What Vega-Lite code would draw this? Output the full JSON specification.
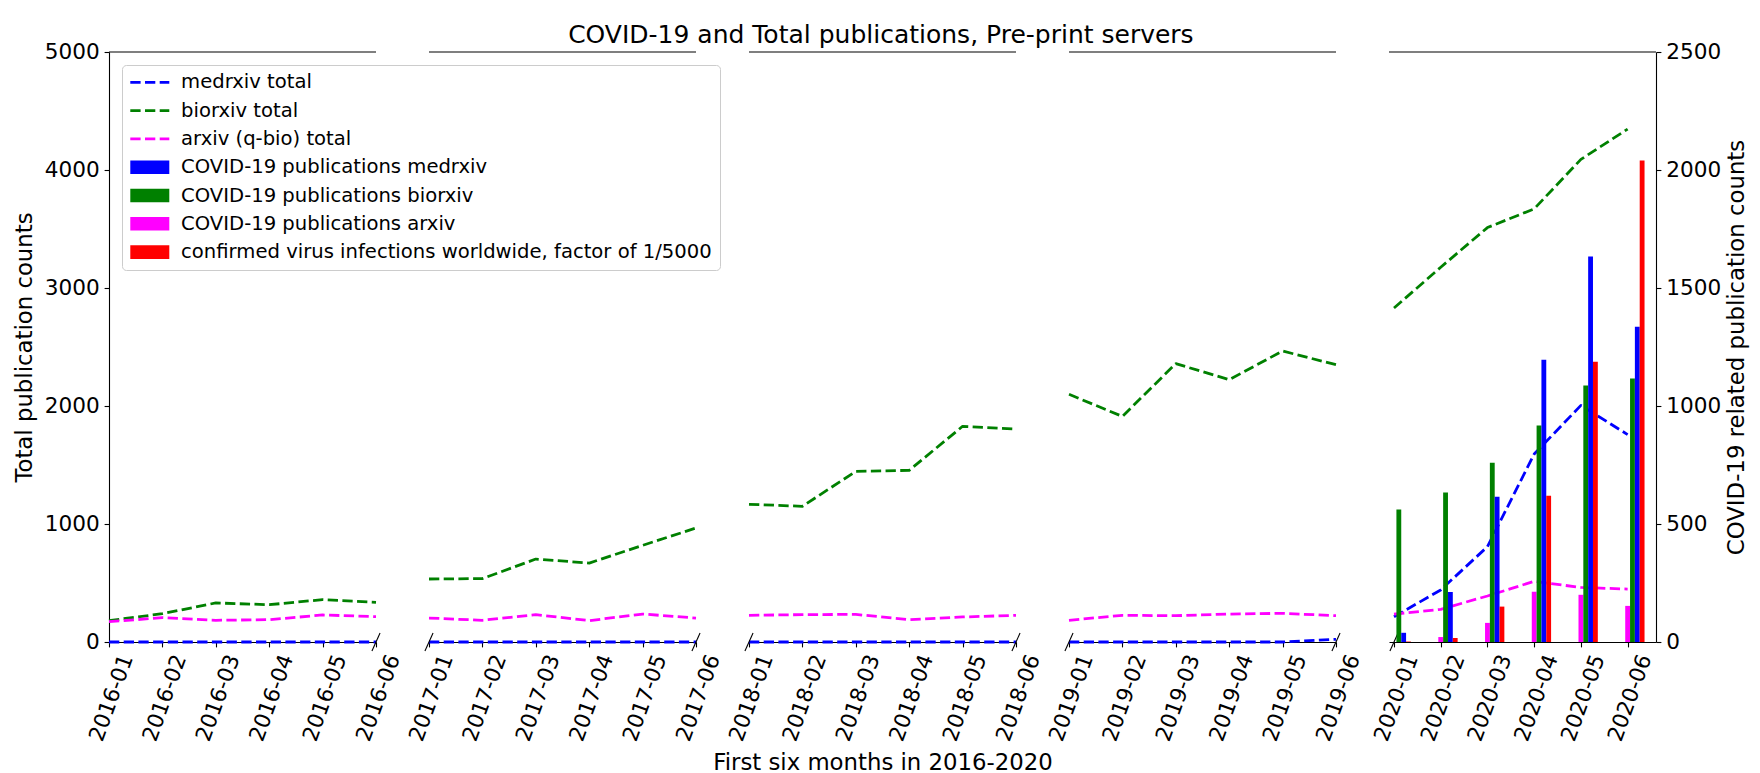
{
  "$schema": "https://vega.github.io/schema/vega-lite/v6.json",
  "background": "white",
  "padding": {"left": 13, "top": 23, "right": 13, "bottom": 0},
  "title": {"text": "COVID-19 and Total publications, Pre-print servers", "anchor": "middle", "offset": -7, "fontSize": 25},
  "datasets": {
    "totals": [
      {"year": 2016, "month": 1, "series": "medrxiv total", "count": 0},
      {"year": 2016, "month": 2, "series": "medrxiv total", "count": 0},
      {"year": 2016, "month": 3, "series": "medrxiv total", "count": 0},
      {"year": 2016, "month": 4, "series": "medrxiv total", "count": 0},
      {"year": 2016, "month": 5, "series": "medrxiv total", "count": 0},
      {"year": 2016, "month": 6, "series": "medrxiv total", "count": 0},
      {"year": 2016, "month": 1, "series": "biorxiv total", "count": 181},
      {"year": 2016, "month": 2, "series": "biorxiv total", "count": 240},
      {"year": 2016, "month": 3, "series": "biorxiv total", "count": 331},
      {"year": 2016, "month": 4, "series": "biorxiv total", "count": 316},
      {"year": 2016, "month": 5, "series": "biorxiv total", "count": 359},
      {"year": 2016, "month": 6, "series": "biorxiv total", "count": 336},
      {"year": 2016, "month": 1, "series": "arxiv (q-bio) total", "count": 172},
      {"year": 2016, "month": 2, "series": "arxiv (q-bio) total", "count": 206},
      {"year": 2016, "month": 3, "series": "arxiv (q-bio) total", "count": 184},
      {"year": 2016, "month": 4, "series": "arxiv (q-bio) total", "count": 189},
      {"year": 2016, "month": 5, "series": "arxiv (q-bio) total", "count": 229},
      {"year": 2016, "month": 6, "series": "arxiv (q-bio) total", "count": 215},
      {"year": 2017, "month": 1, "series": "medrxiv total", "count": 0},
      {"year": 2017, "month": 2, "series": "medrxiv total", "count": 0},
      {"year": 2017, "month": 3, "series": "medrxiv total", "count": 0},
      {"year": 2017, "month": 4, "series": "medrxiv total", "count": 0},
      {"year": 2017, "month": 5, "series": "medrxiv total", "count": 0},
      {"year": 2017, "month": 6, "series": "medrxiv total", "count": 0},
      {"year": 2017, "month": 1, "series": "biorxiv total", "count": 534},
      {"year": 2017, "month": 2, "series": "biorxiv total", "count": 537},
      {"year": 2017, "month": 3, "series": "biorxiv total", "count": 703},
      {"year": 2017, "month": 4, "series": "biorxiv total", "count": 669},
      {"year": 2017, "month": 5, "series": "biorxiv total", "count": 819},
      {"year": 2017, "month": 6, "series": "biorxiv total", "count": 966},
      {"year": 2017, "month": 1, "series": "arxiv (q-bio) total", "count": 203},
      {"year": 2017, "month": 2, "series": "arxiv (q-bio) total", "count": 184},
      {"year": 2017, "month": 3, "series": "arxiv (q-bio) total", "count": 232},
      {"year": 2017, "month": 4, "series": "arxiv (q-bio) total", "count": 181},
      {"year": 2017, "month": 5, "series": "arxiv (q-bio) total", "count": 237},
      {"year": 2017, "month": 6, "series": "arxiv (q-bio) total", "count": 203},
      {"year": 2018, "month": 1, "series": "medrxiv total", "count": 0},
      {"year": 2018, "month": 2, "series": "medrxiv total", "count": 0},
      {"year": 2018, "month": 3, "series": "medrxiv total", "count": 0},
      {"year": 2018, "month": 4, "series": "medrxiv total", "count": 0},
      {"year": 2018, "month": 5, "series": "medrxiv total", "count": 0},
      {"year": 2018, "month": 6, "series": "medrxiv total", "count": 0},
      {"year": 2018, "month": 1, "series": "biorxiv total", "count": 1167},
      {"year": 2018, "month": 2, "series": "biorxiv total", "count": 1150},
      {"year": 2018, "month": 3, "series": "biorxiv total", "count": 1446},
      {"year": 2018, "month": 4, "series": "biorxiv total", "count": 1455},
      {"year": 2018, "month": 5, "series": "biorxiv total", "count": 1828},
      {"year": 2018, "month": 6, "series": "biorxiv total", "count": 1805},
      {"year": 2018, "month": 1, "series": "arxiv (q-bio) total", "count": 226},
      {"year": 2018, "month": 2, "series": "arxiv (q-bio) total", "count": 232},
      {"year": 2018, "month": 3, "series": "arxiv (q-bio) total", "count": 234},
      {"year": 2018, "month": 4, "series": "arxiv (q-bio) total", "count": 189},
      {"year": 2018, "month": 5, "series": "arxiv (q-bio) total", "count": 212},
      {"year": 2018, "month": 6, "series": "arxiv (q-bio) total", "count": 226},
      {"year": 2019, "month": 1, "series": "medrxiv total", "count": 0},
      {"year": 2019, "month": 2, "series": "medrxiv total", "count": 0},
      {"year": 2019, "month": 3, "series": "medrxiv total", "count": 0},
      {"year": 2019, "month": 4, "series": "medrxiv total", "count": 0},
      {"year": 2019, "month": 5, "series": "medrxiv total", "count": 0},
      {"year": 2019, "month": 6, "series": "medrxiv total", "count": 23},
      {"year": 2019, "month": 1, "series": "biorxiv total", "count": 2099},
      {"year": 2019, "month": 2, "series": "biorxiv total", "count": 1912},
      {"year": 2019, "month": 3, "series": "biorxiv total", "count": 2359},
      {"year": 2019, "month": 4, "series": "biorxiv total", "count": 2223},
      {"year": 2019, "month": 5, "series": "biorxiv total", "count": 2466},
      {"year": 2019, "month": 6, "series": "biorxiv total", "count": 2350},
      {"year": 2019, "month": 1, "series": "arxiv (q-bio) total", "count": 184},
      {"year": 2019, "month": 2, "series": "arxiv (q-bio) total", "count": 226},
      {"year": 2019, "month": 3, "series": "arxiv (q-bio) total", "count": 223},
      {"year": 2019, "month": 4, "series": "arxiv (q-bio) total", "count": 237},
      {"year": 2019, "month": 5, "series": "arxiv (q-bio) total", "count": 243},
      {"year": 2019, "month": 6, "series": "arxiv (q-bio) total", "count": 223},
      {"year": 2020, "month": 1, "series": "medrxiv total", "count": 214},
      {"year": 2020, "month": 2, "series": "medrxiv total", "count": 441},
      {"year": 2020, "month": 3, "series": "medrxiv total", "count": 808},
      {"year": 2020, "month": 4, "series": "medrxiv total", "count": 1593},
      {"year": 2020, "month": 5, "series": "medrxiv total", "count": 2005},
      {"year": 2020, "month": 6, "series": "medrxiv total", "count": 1758},
      {"year": 2020, "month": 1, "series": "biorxiv total", "count": 2830},
      {"year": 2020, "month": 2, "series": "biorxiv total", "count": 3176},
      {"year": 2020, "month": 3, "series": "biorxiv total", "count": 3512},
      {"year": 2020, "month": 4, "series": "biorxiv total", "count": 3671},
      {"year": 2020, "month": 5, "series": "biorxiv total", "count": 4090},
      {"year": 2020, "month": 6, "series": "biorxiv total", "count": 4347},
      {"year": 2020, "month": 1, "series": "arxiv (q-bio) total", "count": 237},
      {"year": 2020, "month": 2, "series": "arxiv (q-bio) total", "count": 277},
      {"year": 2020, "month": 3, "series": "arxiv (q-bio) total", "count": 390},
      {"year": 2020, "month": 4, "series": "arxiv (q-bio) total", "count": 514},
      {"year": 2020, "month": 5, "series": "arxiv (q-bio) total", "count": 462},
      {"year": 2020, "month": 6, "series": "arxiv (q-bio) total", "count": 449}
    ],
    "covid": [
      {"month": 1, "series": "COVID-19 publications arxiv", "count": 0},
      {"month": 2, "series": "COVID-19 publications arxiv", "count": 21},
      {"month": 3, "series": "COVID-19 publications arxiv", "count": 81},
      {"month": 4, "series": "COVID-19 publications arxiv", "count": 213},
      {"month": 5, "series": "COVID-19 publications arxiv", "count": 200},
      {"month": 6, "series": "COVID-19 publications arxiv", "count": 153},
      {"month": 1, "series": "COVID-19 publications biorxiv", "count": 561},
      {"month": 2, "series": "COVID-19 publications biorxiv", "count": 633},
      {"month": 3, "series": "COVID-19 publications biorxiv", "count": 760},
      {"month": 4, "series": "COVID-19 publications biorxiv", "count": 917},
      {"month": 5, "series": "COVID-19 publications biorxiv", "count": 1087},
      {"month": 6, "series": "COVID-19 publications biorxiv", "count": 1116},
      {"month": 1, "series": "COVID-19 publications medrxiv", "count": 39},
      {"month": 2, "series": "COVID-19 publications medrxiv", "count": 212},
      {"month": 3, "series": "COVID-19 publications medrxiv", "count": 615},
      {"month": 4, "series": "COVID-19 publications medrxiv", "count": 1196},
      {"month": 5, "series": "COVID-19 publications medrxiv", "count": 1633},
      {"month": 6, "series": "COVID-19 publications medrxiv", "count": 1336},
      {"month": 1, "series": "confirmed virus infections worldwide, factor of 1/5000", "count": 2},
      {"month": 2, "series": "confirmed virus infections worldwide, factor of 1/5000", "count": 17},
      {"month": 3, "series": "confirmed virus infections worldwide, factor of 1/5000", "count": 150},
      {"month": 4, "series": "confirmed virus infections worldwide, factor of 1/5000", "count": 620},
      {"month": 5, "series": "confirmed virus infections worldwide, factor of 1/5000", "count": 1187},
      {"month": 6, "series": "confirmed virus infections worldwide, factor of 1/5000", "count": 2040}
    ]
  },
  "spacing": 53,
  "bounds": "flush",
  "hconcat": [
    {
      "width": 267, "height": 590,
      "layer": [
        {
          "data": {"name": "totals"},
          "transform": [{"filter": "datum.year == 2016"}],
          "mark": {"type": "line", "strokeWidth": 2.78, "strokeDash": [10.3, 4.4], "strokeCap": "butt", "strokeJoin": "round"},
          "encoding": {
            "x": {"field": "month", "type": "quantitative", "scale": {"domain": [1, 6], "nice": false, "zero": false},
                  "axis": {"values": [1, 2, 3, 4, 5, 6], "labelExpr": "'2016-0' + datum.value", "title": null}},
            "y": {"field": "count", "type": "quantitative", "scale": {"domain": [0, 5000], "nice": false},
                  "axis": {"values": [0, 1000, 2000, 3000, 4000, 5000], "format": "d", "title": "Total publication counts", "titlePadding": 8}},
            "color": {
              "field": "series", "type": "nominal",
              "scale": {
                "domain": ["medrxiv total", "biorxiv total", "arxiv (q-bio) total", "COVID-19 publications medrxiv", "COVID-19 publications biorxiv", "COVID-19 publications arxiv", "confirmed virus infections worldwide, factor of 1/5000"],
                "range": ["#0000ff", "#008000", "#ff00ff", "#0000ff", "#008000", "#ff00ff", "#ff0000"]
              },
              "legend": {
                "title": null, "orient": "none", "legendX": 13, "legendY": 13,
                "padding": 7.5, "strokeColor": "#cccccc", "fillColor": "white", "cornerRadius": 4,
                "labelFont": "DejaVu Sans", "labelFontSize": 19.6, "labelColor": "black", "labelLimit": 1000,
                "symbolSize": 196, "symbolOffset": 10.5, "labelOffset": 21.5, "rowPadding": 7.3,
                "encode": {
                  "symbols": {
                    "update": {
                      "shape": [{"test": "datum.index < 3", "value": "M-2.786,0H2.786"}, {"value": "M-2.786,-0.971H2.786V0.971H-2.786Z"}],
                      "fill": [{"test": "datum.index < 3", "value": "transparent"}, {"scale": "color", "field": "value"}],
                      "stroke": [{"test": "datum.index < 3", "scale": "color", "field": "value"}, {"value": "transparent"}],
                      "strokeOpacity": [{"test": "datum.index < 3", "value": 1}, {"value": 0}],
                      "strokeDash": [{"test": "datum.index < 3", "value": [10.3, 4.4]}, {"value": [1, 0]}],
                      "strokeWidth": {"value": 2.78},
                      "strokeJoin": {"value": "round"},
                      "opacity": {"value": 1}
                    }
                  }
                }
              }
            }
          }
        },
        {
          "data": {"values": [{}]},
          "mark": {"type": "rule", "color": "black", "strokeWidth": 1.1},
          "encoding": {"y": {"datum": 5000, "type": "quantitative"}}
        },
        {
          "data": {"values": [{}]},
          "mark": {"type": "point", "shape": "M-0.45,1L0.45,-1", "size": 324, "filled": false, "color": "black", "strokeWidth": 1.1, "opacity": 1},
          "encoding": {"x": {"datum": 6, "type": "quantitative"}, "y": {"datum": 0, "type": "quantitative"}}
        }
      ]
    },
    {
      "width": 267, "height": 590,
      "layer": [
        {
          "data": {"name": "totals"},
          "transform": [{"filter": "datum.year == 2017"}],
          "mark": {"type": "line", "strokeWidth": 2.78, "strokeDash": [10.3, 4.4], "strokeCap": "butt", "strokeJoin": "round"},
          "encoding": {
            "x": {"field": "month", "type": "quantitative", "scale": {"domain": [1, 6], "nice": false, "zero": false},
                  "axis": {"values": [1, 2, 3, 4, 5, 6], "labelExpr": "'2017-0' + datum.value", "title": null}},
            "y": {"field": "count", "type": "quantitative", "scale": {"domain": [0, 5000], "nice": false}, "axis": null},
            "color": {"field": "series", "type": "nominal"}
          }
        },
        {
          "data": {"values": [{}]},
          "mark": {"type": "rule", "color": "black", "strokeWidth": 1.1},
          "encoding": {"y": {"datum": 5000, "type": "quantitative"}}
        },
        {
          "data": {"values": [{}]},
          "mark": {"type": "point", "shape": "M-0.45,1L0.45,-1", "size": 324, "filled": false, "color": "black", "strokeWidth": 1.1, "opacity": 1},
          "encoding": {"x": {"datum": 1, "type": "quantitative"}, "y": {"datum": 0, "type": "quantitative"}}
        },
        {
          "data": {"values": [{}]},
          "mark": {"type": "point", "shape": "M-0.45,1L0.45,-1", "size": 324, "filled": false, "color": "black", "strokeWidth": 1.1, "opacity": 1},
          "encoding": {"x": {"datum": 6, "type": "quantitative"}, "y": {"datum": 0, "type": "quantitative"}}
        }
      ]
    },
    {
      "width": 267, "height": 590,
      "layer": [
        {
          "data": {"name": "totals"},
          "transform": [{"filter": "datum.year == 2018"}],
          "mark": {"type": "line", "strokeWidth": 2.78, "strokeDash": [10.3, 4.4], "strokeCap": "butt", "strokeJoin": "round"},
          "encoding": {
            "x": {"field": "month", "type": "quantitative", "scale": {"domain": [1, 6], "nice": false, "zero": false},
                  "axis": {"values": [1, 2, 3, 4, 5, 6], "labelExpr": "'2018-0' + datum.value", "title": "First six months in 2016-2020", "titlePadding": 8}},
            "y": {"field": "count", "type": "quantitative", "scale": {"domain": [0, 5000], "nice": false}, "axis": null},
            "color": {"field": "series", "type": "nominal"}
          }
        },
        {
          "data": {"values": [{}]},
          "mark": {"type": "rule", "color": "black", "strokeWidth": 1.1},
          "encoding": {"y": {"datum": 5000, "type": "quantitative"}}
        },
        {
          "data": {"values": [{}]},
          "mark": {"type": "point", "shape": "M-0.45,1L0.45,-1", "size": 324, "filled": false, "color": "black", "strokeWidth": 1.1, "opacity": 1},
          "encoding": {"x": {"datum": 1, "type": "quantitative"}, "y": {"datum": 0, "type": "quantitative"}}
        },
        {
          "data": {"values": [{}]},
          "mark": {"type": "point", "shape": "M-0.45,1L0.45,-1", "size": 324, "filled": false, "color": "black", "strokeWidth": 1.1, "opacity": 1},
          "encoding": {"x": {"datum": 6, "type": "quantitative"}, "y": {"datum": 0, "type": "quantitative"}}
        }
      ]
    },
    {
      "width": 267, "height": 590,
      "layer": [
        {
          "data": {"name": "totals"},
          "transform": [{"filter": "datum.year == 2019"}],
          "mark": {"type": "line", "strokeWidth": 2.78, "strokeDash": [10.3, 4.4], "strokeCap": "butt", "strokeJoin": "round"},
          "encoding": {
            "x": {"field": "month", "type": "quantitative", "scale": {"domain": [1, 6], "nice": false, "zero": false},
                  "axis": {"values": [1, 2, 3, 4, 5, 6], "labelExpr": "'2019-0' + datum.value", "title": null}},
            "y": {"field": "count", "type": "quantitative", "scale": {"domain": [0, 5000], "nice": false}, "axis": null},
            "color": {"field": "series", "type": "nominal"}
          }
        },
        {
          "data": {"values": [{}]},
          "mark": {"type": "rule", "color": "black", "strokeWidth": 1.1},
          "encoding": {"y": {"datum": 5000, "type": "quantitative"}}
        },
        {
          "data": {"values": [{}]},
          "mark": {"type": "point", "shape": "M-0.45,1L0.45,-1", "size": 324, "filled": false, "color": "black", "strokeWidth": 1.1, "opacity": 1},
          "encoding": {"x": {"datum": 1, "type": "quantitative"}, "y": {"datum": 0, "type": "quantitative"}}
        },
        {
          "data": {"values": [{}]},
          "mark": {"type": "point", "shape": "M-0.45,1L0.45,-1", "size": 324, "filled": false, "color": "black", "strokeWidth": 1.1, "opacity": 1},
          "encoding": {"x": {"datum": 6, "type": "quantitative"}, "y": {"datum": 0, "type": "quantitative"}}
        }
      ]
    },
    {
      "width": 267, "height": 590,
      "layer": [
        {
          "layer": [
            {
              "data": {"name": "totals"},
              "transform": [{"filter": "datum.year == 2020"}],
              "mark": {"type": "line", "strokeWidth": 2.78, "strokeDash": [10.3, 4.4], "strokeCap": "butt", "strokeJoin": "round"},
              "encoding": {
                "x": {"field": "month", "type": "quantitative", "scale": {"domain": [1, 6.5], "nice": false, "zero": false},
                      "axis": {"values": [1, 2, 3, 4, 5, 6], "labelExpr": "'2020-0' + datum.value", "title": null}},
                "y": {"field": "count", "type": "quantitative", "scale": {"domain": [0, 5000], "nice": false}, "axis": null},
                "color": {"field": "series", "type": "nominal"}
              }
            },
            {
              "data": {"values": [{}]},
              "mark": {"type": "rule", "color": "black", "strokeWidth": 1.1},
              "encoding": {"y": {"datum": 5000, "type": "quantitative"}}
            },
            {
              "data": {"values": [{}]},
              "mark": {"type": "point", "shape": "M-0.45,1L0.45,-1", "size": 324, "filled": false, "color": "black", "strokeWidth": 1.1, "opacity": 1},
              "encoding": {"x": {"datum": 1, "type": "quantitative"}, "y": {"datum": 0, "type": "quantitative"}}
            }
          ]
        },
        {
          "data": {"name": "covid"},
          "encoding": {
            "x": {"field": "month", "type": "quantitative", "scale": {"domain": [1, 6.5], "nice": false, "zero": false},
                  "axis": {"values": [1, 2, 3, 4, 5, 6], "labelExpr": "'2020-0' + datum.value", "title": null}},
            "y": {"field": "count", "type": "quantitative", "scale": {"domain": [0, 2500], "nice": false},
                  "axis": {"orient": "right", "values": [0, 500, 1000, 1500, 2000, 2500], "format": "d", "title": "COVID-19 related publication counts", "titleAngle": 270, "titleBaseline": "top", "titlePadding": 5}},
            "color": {"field": "series", "type": "nominal"}
          },
          "layer": [
            {"transform": [{"filter": "datum.series == 'COVID-19 publications arxiv'"}], "mark": {"type": "bar", "width": 4.83, "xOffset": 0}},
            {"transform": [{"filter": "datum.series == 'COVID-19 publications biorxiv'"}], "mark": {"type": "bar", "width": 4.83, "xOffset": 4.83}},
            {"transform": [{"filter": "datum.series == 'COVID-19 publications medrxiv'"}], "mark": {"type": "bar", "width": 4.83, "xOffset": 9.66}},
            {"transform": [{"filter": "datum.series == 'confirmed virus infections worldwide, factor of 1/5000'"}], "mark": {"type": "bar", "width": 4.83, "xOffset": 14.49}}
          ]
        }
      ],
      "resolve": {"scale": {"y": "independent"}, "axis": {"y": "independent"}}
    }
  ],
  "config": {
    "font": "DejaVu Sans",
    "view": {"stroke": null},
    "title": {"font": "DejaVu Sans", "fontSize": 25, "fontWeight": "normal", "color": "black"},
    "axis": {
      "grid": false,
      "domainColor": "black", "domainWidth": 1.1,
      "tickColor": "black", "tickWidth": 1.1, "tickSize": 4.9,
      "labelColor": "black", "labelFont": "DejaVu Sans", "labelFontSize": 21.6, "labelPadding": 4.9,
      "labelFlush": false, "labelOverlap": false, "labelBound": false,
      "titleColor": "black", "titleFont": "DejaVu Sans", "titleFontSize": 22.8, "titleFontWeight": "normal"
    },
    "axisX": {"labelAngle": -70, "labelAlign": "right", "labelBaseline": "middle", "labelOffset": 18, "labelPadding": 8.5}
  }
}
